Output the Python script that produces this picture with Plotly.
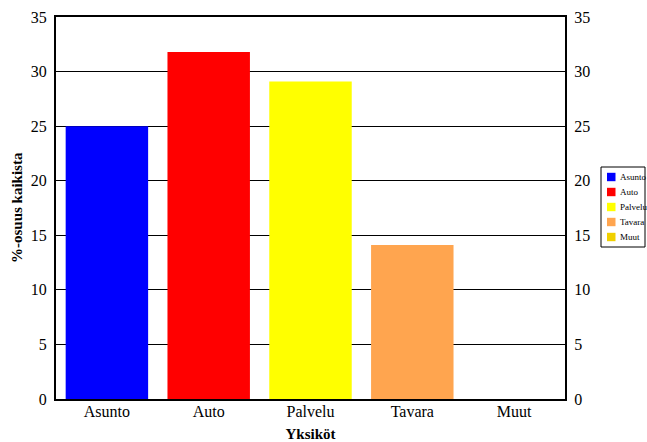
import plotly.graph_objects as go

categories = ["Asunto", "Auto", "Palvelu", "Tavara", "Muut"]
values = [25.0, 31.8, 29.1, 14.1, 0.0]
colors = ["#0000FF", "#FF0000", "#FFFF00", "#FFA54F", "#F0D000"]
yticks = [0, 5, 10, 15, 20, 25, 30, 35]

W, H = 647, 442
L, R, T, B = 56, 82, 17, 43
pw, ph = W - L - R, H - T - B

fig = go.Figure()
fig.add_trace(go.Bar(x=categories, y=values, marker=dict(color=colors, line=dict(width=0)),
                     width=0.81, showlegend=False))
fig.add_trace(go.Scatter(x=categories, y=values, yaxis="y2", mode="none",
                         showlegend=False, hoverinfo="skip"))

font = "Liberation Serif, Times New Roman, serif"

# custom legend (layout decoration), positions given in window pixels
def px_x(p):
    return (p - L) / pw
def px_y(p):
    return (H - B - p) / ph

shapes = [dict(type="rect", xref="paper", yref="paper",
               x0=px_x(601), x1=px_x(645), y0=px_y(247), y1=px_y(167),
               line=dict(color="black", width=1), fillcolor="white", layer="above")]
annotations = []
for i, (c, col) in enumerate(zip(categories, colors)):
    cy = 177 + i * 15
    shapes.append(dict(type="rect", xref="paper", yref="paper",
                       x0=px_x(607), x1=px_x(615.5), y0=px_y(cy + 4.2), y1=px_y(cy - 4.2),
                       line=dict(width=0), fillcolor=col, layer="above"))
    annotations.append(dict(text=c, xref="paper", yref="paper", x=px_x(617.5), y=px_y(cy),
                            xanchor="left", yanchor="middle", showarrow=False,
                            font=dict(size=9, family=font, color="black")))

# y-axis title as rotated annotation
annotations.append(dict(text="<b>%-osuus kaikista</b>", xref="paper", yref="paper",
                        x=px_x(17), y=0.5, xanchor="center", yanchor="middle",
                        textangle=-90, showarrow=False,
                        font=dict(size=15, family=font, color="black")))

fig.update_layout(
    width=W, height=H,
    margin=dict(l=L, r=R, t=T, b=B, autoexpand=False),
    paper_bgcolor="white", plot_bgcolor="white",
    font=dict(family=font, size=16, color="black"),
    xaxis=dict(categoryorder="array", categoryarray=categories, automargin=False,
               showline=True, linecolor="black", linewidth=2, mirror=True,
               ticks="", tickfont=dict(size=16), ticklabelstandoff=-3,
               title=dict(text="<b>Yksiköt</b>", font=dict(size=15))),
    yaxis=dict(range=[0, 35], tickvals=yticks, showgrid=True, gridcolor="black",
               gridwidth=1, showline=True, linecolor="black", linewidth=2,
               ticks="", zeroline=False, automargin=False, ticklabelstandoff=4,
               tickfont=dict(size=16)),
    yaxis2=dict(range=[0, 35], tickvals=yticks, overlaying="y", side="right",
                showgrid=False, showline=True, linecolor="black", linewidth=2,
                ticks="", zeroline=False, automargin=False, ticklabelstandoff=4,
                tickfont=dict(size=16)),
    shapes=shapes,
    annotations=annotations,
    showlegend=False,
)
fig.write_html("out.html", config={"displayModeBar": False},
               post_script="document.body.style.margin='0';document.body.style.overflow='hidden';")
